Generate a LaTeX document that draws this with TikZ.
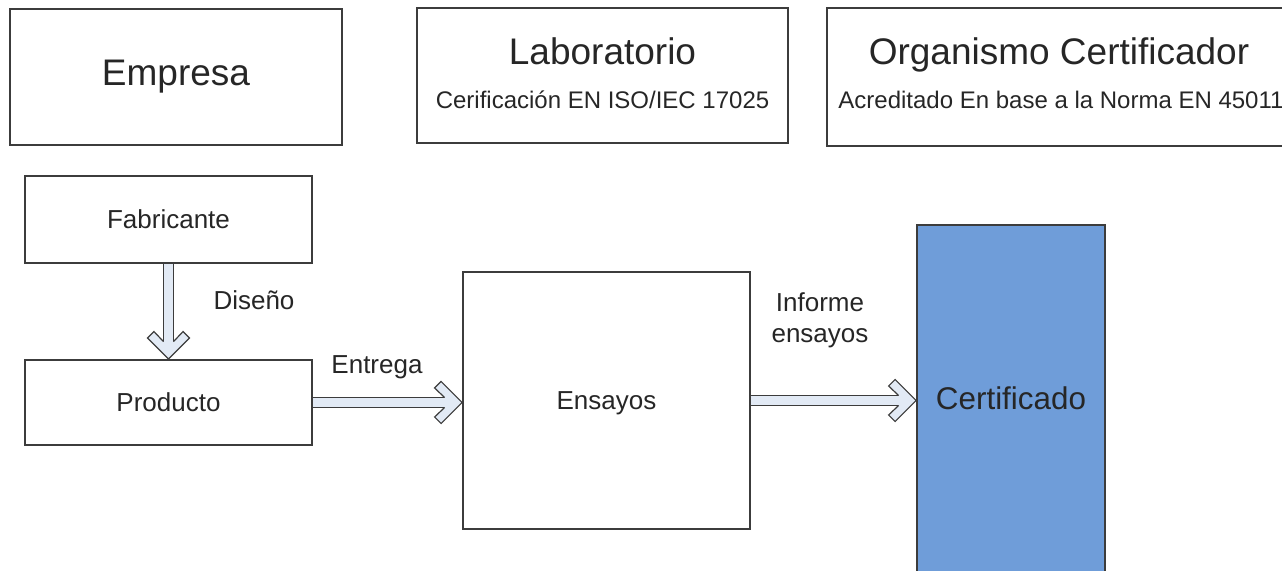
\documentclass[tikz,border=0pt]{standalone}
\usepackage{fontspec}
\setmainfont{Liberation Sans}
\usepackage{tikz}
\usetikzlibrary{calc}
\definecolor{boxline}{HTML}{3C3C3C}
\definecolor{textcol}{HTML}{262626}
\definecolor{certfill}{HTML}{6F9DD9}
\definecolor{arrowfill}{HTML}{E2EAF5}
\tikzset{box/.style={draw=boxline, line width=0.9pt, text=textcol, inner sep=0pt, font=\fontsize{13}{15.5}\selectfont},
  title/.style={text=textcol, inner sep=0pt, anchor=base, font=\fontsize{18.5}{22}\selectfont},
  subtitle/.style={text=textcol, inner sep=0pt, anchor=base, font=\fontsize{12}{14}\selectfont},
  label/.style={text=textcol, inner sep=0pt, anchor=base, font=\fontsize{13}{15.5}\selectfont, align=center},
  flow/.style={draw=boxline, line width=0.6pt, double=arrowfill, double distance=4.4pt},
  flowhead/.pic={
    \fill[arrowfill] (0,0) -- (-21,21) -- (-27.5,14.5) -- (-17.5,5) -- (-17.5,-5) -- (-27.5,-14.5) -- (-21,-21) -- cycle;
    \draw[boxline, line width=0.6pt, line join=miter] (-17.5,5) -- (-27.5,14.5) -- (-21,21) -- (0,0) -- (-21,-21) -- (-27.5,-14.5) -- (-17.5,-5);
  }}

\begin{document}
\begin{tikzpicture}[x=0.5pt, y=-0.5pt]
\useasboundingbox (0,0) rectangle (1282,571);
\clip (0,0) rectangle (1282,571);
 \node[box, minimum width=166pt, minimum height=68pt, font=\fontsize{18.5}{22}\selectfont] (empresa) at (176,77) {Empresa};
 \node[box, minimum width=185.5pt, minimum height=67.5pt] (lab) at (602.5,75.5) {};
  \node[title] (labname) at (602.5,65) {Laboratorio};
  \node[subtitle] (labnorm) at (602.5,109) {Cerificación EN ISO/IEC 17025};
 \node[box, minimum width=232pt, minimum height=69pt] (org) at (1059,77) {};
  \node[title] (orgname) at (1059,65) {Organismo Certificador};
  \node[subtitle] (orgnorm) at (1061,109) {Acreditado En base a la Norma EN 45011};
 \node[box, minimum width=143.5pt, minimum height=43.5pt] (fab) at (168.5,219.5) {Fabricante};
 \node[box, minimum width=143.5pt, minimum height=42.5pt] (prod) at (168.5,402.5) {Producto};
 \node[box, minimum width=143.5pt, minimum height=128.5pt, text depth=0pt] (ens) at (606.5,400.5) {Ensayos};
 \node[box, fill=certfill, minimum width=94pt, minimum height=173.5pt, font=\fontsize{15.7}{18}\selectfont] (cert) at (1011,398.5) {Certificado};
 \coordinate (ensin) at (ens.west |- prod.east);
 \coordinate (certin) at (cert.west |- ens.east);
 \draw[flow] (fab.south) -- ($(prod.north)+(0,-16)$);
 \pic[rotate=-90] at (prod.north) {flowhead};
 \draw[flow] (prod.east) -- ($(ensin)+(-16,0)$);
 \pic at (ensin) {flowhead};
 \draw[flow] (ens.east) -- ($(certin)+(-16,0)$);
 \pic at (certin) {flowhead};
 \node[label] (diseno) at (254,310) {Diseño};
 \node[label] (entrega) at (377,374) {Entrega};
 \node[label] (informe) at (820,343) {Informe\\ensayos};
\end{tikzpicture}
\end{document}
